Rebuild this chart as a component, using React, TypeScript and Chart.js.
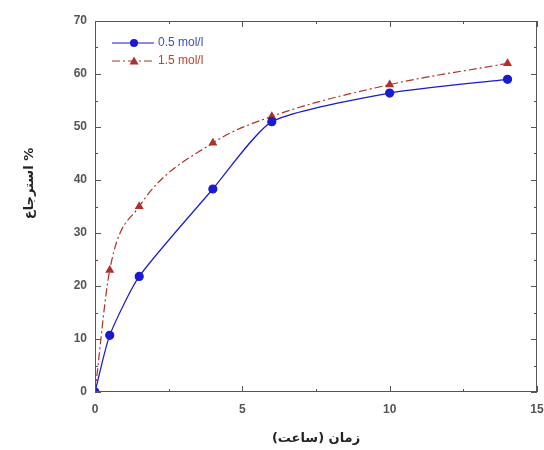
import React, { useEffect, useRef } from "react";
import { Chart, registerables } from "chart.js";
Chart.register(...registerables);

const timeHours = [0, 0.5, 1.5, 4, 6, 10, 14];
const series05 = [0, 10.7, 21.8, 38.3, 51, 56.4, 59];
const series15 = [0, 23, 35, 47, 52, 58, 62];
const seriesLabels = ["0.5 mol/l", "1.5 mol/l"];
const xTitle = "زمان (ساعت)";
const yTitle = "استرجاع %";

const BLUE = "#1a1ad0";
const RED = "#b0302a";

const inwardTicks = {
  id: "inwardTicks",
  afterDraw(chart: any) {
    const { ctx, chartArea: a, scales } = chart;
    const x = scales.x, y = scales.y;
    ctx.save();
    ctx.strokeStyle = "#555";
    ctx.lineWidth = 1;
    ctx.strokeRect(a.left + 0.5, a.top + 0.5, a.right - a.left - 1, a.bottom - a.top - 1);
    const xs: [number, number][] = [];
    for (let v = 0; v <= 15; v += 2.5) xs.push([v, v % 5 === 0 ? 6 : 3]);
    const ys: [number, number][] = [];
    for (let v = 0; v <= 70; v += 5) ys.push([v, v % 10 === 0 ? 6 : 3]);
    ctx.beginPath();
    xs.forEach(([v, len]) => {
      const px = Math.round(x.getPixelForValue(v)) + 0.5;
      ctx.moveTo(px, a.bottom); ctx.lineTo(px, a.bottom - len);
      ctx.moveTo(px, a.top); ctx.lineTo(px, a.top + len);
    });
    ys.forEach(([v, len]) => {
      const py = Math.round(y.getPixelForValue(v)) + 0.5;
      ctx.moveTo(a.left, py); ctx.lineTo(a.left + len, py);
      ctx.moveTo(a.right, py); ctx.lineTo(a.right - len, py);
    });
    ctx.stroke();

    // y title
    ctx.save();
    ctx.translate(30, y.getPixelForValue(35) - 23);
    ctx.rotate(-Math.PI / 2);
    ctx.fillStyle = "#222";
    ctx.font = "bold 13px 'DejaVu Sans', 'Noto Sans', Arial";
    ctx.textAlign = "center";
    ctx.textBaseline = "middle";
    ctx.fillText(yTitle, 0, 0);
    ctx.restore();

    // legend
    const lx = a.left + 17, ly = a.top + 22;
    const items = [
      { label: seriesLabels[0], color: BLUE, dash: [] as number[], point: "circle", text: "#3a4fc0" },
      { label: seriesLabels[1], color: RED, dash: [8, 3, 2, 3], point: "triangle", text: "#c0442a" },
    ];
    items.forEach((it, i) => {
      const yy = ly + i * 18;
      ctx.strokeStyle = it.color;
      ctx.setLineDash(it.dash);
      ctx.lineWidth = 1.2;
      ctx.beginPath();
      ctx.moveTo(lx, yy); ctx.lineTo(lx + 42, yy);
      ctx.stroke();
      ctx.setLineDash([]);
      ctx.fillStyle = it.color;
      ctx.beginPath();
      if (it.point === "circle") {
        ctx.arc(lx + 22, yy, 4, 0, Math.PI * 2);
      } else {
        ctx.moveTo(lx + 22, yy - 4.5); ctx.lineTo(lx + 26.5, yy + 3.5); ctx.lineTo(lx + 17.5, yy + 3.5); ctx.closePath();
      }
      ctx.fill();
      ctx.fillStyle = it.text;
      ctx.font = "12px 'Liberation Sans', Arial, sans-serif";
      ctx.textBaseline = "middle";
      ctx.textAlign = "left";
      ctx.fillText(it.label, lx + 46, yy);
    });
    ctx.restore();
  },
};

export default function App() {
  const ref = useRef<HTMLCanvasElement>(null);
  useEffect(() => {
    document.body.style.margin = "0";
    const chart = new Chart(ref.current!, {
      type: "line",
      data: {
        datasets: [
          {
            label: seriesLabels[0],
            data: timeHours.map((t, i) => ({ x: t, y: series05[i] })),
            borderColor: BLUE,
            backgroundColor: BLUE,
            borderWidth: 1.2,
            pointStyle: "circle",
            pointRadius: 4,
            tension: 0.2,
          },
          {
            label: seriesLabels[1],
            data: timeHours.map((t, i) => ({ x: t, y: series15[i] })),
            borderColor: RED,
            backgroundColor: RED,
            borderWidth: 1.2,
            borderDash: [8, 3, 2, 3],
            pointStyle: "triangle",
            pointRadius: 4,
            cubicInterpolationMode: "monotone",
          },
        ],
      },
      options: {
        animation: false,
        responsive: false,
        maintainAspectRatio: false,
        layout: { padding: { top: 21, right: 0, left: 0, bottom: 0 } },
        plugins: { legend: { display: false }, tooltip: { enabled: false } },
        scales: {
          x: {
            type: "linear",
            min: 0,
            max: 15,
            grid: { display: false, drawTicks: false },
            border: { display: false },
            ticks: { stepSize: 5, padding: 10, color: "#555", font: { size: 12, weight: "bold", family: "'Liberation Sans', Arial" } },
            title: { display: true, text: xTitle, color: "#222", font: { size: 13, weight: "bold", family: "'DejaVu Sans', 'Noto Sans', Arial" }, padding: { top: 4 } },
            afterFit: (s: any) => { s.height = 58; s.paddingRight = 7; s.paddingLeft = 0; },
          },
          y: {
            min: 0,
            max: 70,
            grid: { display: false, drawTicks: false },
            border: { display: false },
            ticks: { stepSize: 10, padding: 8, color: "#555", font: { size: 12, weight: "bold", family: "'Liberation Sans', Arial" } },
            title: { display: false, text: yTitle },
            afterFit: (s: any) => { s.width = 95; s.paddingTop = 0; s.paddingBottom = 0; },
          },
        },
      },
      plugins: [inwardTicks],
    } as any);
    return () => chart.destroy();
  }, []);
  return (
    <div style={{ width: 544, height: 450, background: "#fff" }}>
      <canvas ref={ref} width={544} height={450} />
    </div>
  );
}
